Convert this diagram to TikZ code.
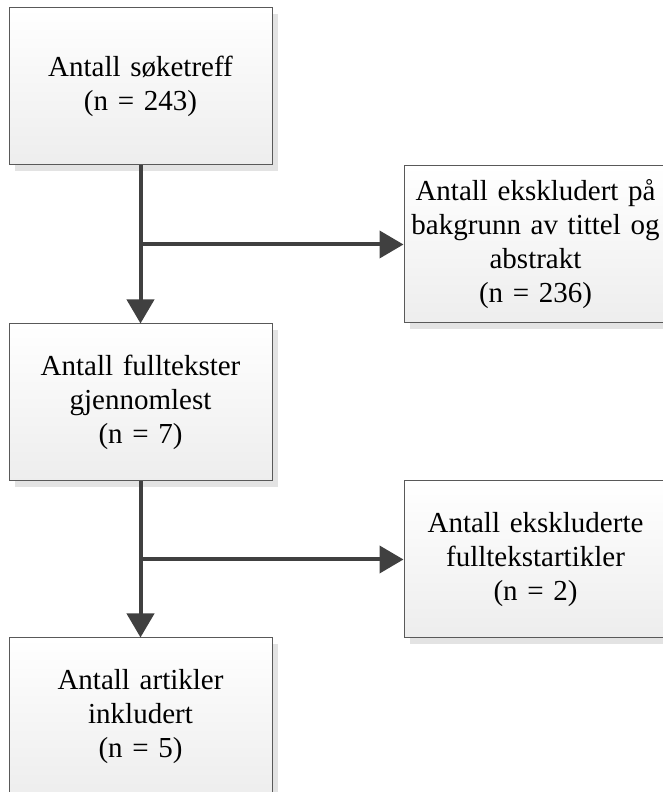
\documentclass[tikz,border=0pt]{standalone}
\usepackage{fontspec}
\setmainfont{Liberation Serif}
\usetikzlibrary{arrows.meta,shadows}
\definecolor{linegray}{HTML}{404040}
\definecolor{boxline}{HTML}{595959}
\tikzset{
  box/.style={shape=rectangle, draw=boxline, line width=1pt, top color=white, bottom color=black!7,
    minimum width=263pt, minimum height=157pt, inner sep=0pt, text width=258pt, align=center,
    font=\fontsize{29}{34}\selectfont,
    drop shadow={shadow xshift=6pt, shadow yshift=-6pt, fill=black!11, opacity=1}},
  flow/.style={line width=4pt, draw=linegray, -{Triangle[length=24pt,width=27pt]}}
}
\begin{document}
\begin{tikzpicture}[x=1pt,y=1pt]
\clip (0,0) rectangle (663,792);
\node[box] (soek) at (140.5, 705.5) {Antall søketreff\\(n = 243)};
\node[box] (eks1) at (535.5, 547.5) {Antall ekskludert på\\bakgrunn av tittel og\\abstrakt\\(n = 236)};
\node[box] (full) at (140.5, 389.5) {Antall fulltekster\\gjennomlest\\(n = 7)};
\node[box] (eks2) at (535.5, 232.5) {Antall ekskluderte\\fulltekstartikler\\(n = 2)};
\node[box] (inkl) at (140.5, 75.5) {Antall artikler\\inkludert\\(n = 5)};
\coordinate (gren1) at (140.5, 547.5);
\coordinate (gren2) at (140.5, 232.5);
\path (soek) edge [flow] (full);
\path (gren1) edge [flow] (eks1);
\path (full) edge [flow] (inkl);
\path (gren2) edge [flow] (eks2);
\end{tikzpicture}
\end{document}
